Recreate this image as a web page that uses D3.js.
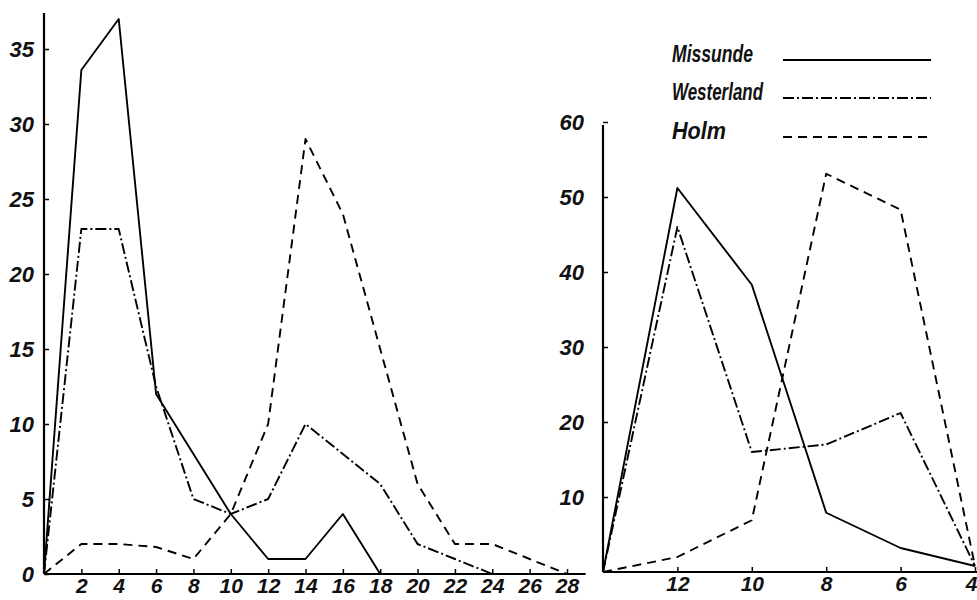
<!DOCTYPE html>
<html>
<head>
<meta charset="utf-8">
<script src="https://cdn.jsdelivr.net/npm/d3@7"></script>
<style>
  body { margin: 0; background: #fff; }
  svg { display: block; }
  .tick text { font-family: "Liberation Sans", Arial, sans-serif; font-style: italic; font-weight: bold; fill: #111; }
  .legend text { font-family: "Liberation Sans", Arial, sans-serif; font-style: italic; font-weight: bold; fill: #111; }
</style>
</head>
<body>
<div id="chart"></div>
<script>
// left panel: x = 0..28
const leftX = [0, 2, 4, 6, 8, 10, 12, 14, 16, 18, 20, 22, 24, 26, 28];
const leftMissunde = [0, 33.6, 37, 12, 8, 4, 1, 1, 4, 0, null, null, null, null, null];
const leftWesterland = [0, 23, 23, 12.5, 5, 4, 5, 10, 8, 6, 2, 1, 0, null, null];
const leftHolm = [0, 2, 2, 1.8, 1, 4, 10, 29, 24, 15, 6, 2, 2, 1, 0];
const leftYTicks = [0, 5, 10, 15, 20, 25, 30, 35];
const leftXTicks = [2, 4, 6, 8, 10, 12, 14, 16, 18, 20, 22, 24, 26, 28];

// right panel: x = 14..4 (reversed)
const rightX = [14, 12, 10, 8, 6, 4];
const rightMissunde = [0, 51.2, 38.3, 7.9, 3.2, 0.8];
const rightWesterland = [0, 46, 16, 17, 21.2, 0.8];
const rightHolm = [0, 2, 6.9, 53.1, 48.3, 0.8];
const rightYTicks = [10, 20, 30, 40, 50, 60];
const rightXTicks = [12, 10, 8, 6, 4];

const seriesNames = ["Missunde", "Westerland", "Holm"];
const dashes = { Missunde: null, Westerland: "11,3,2,3", Holm: "9,6" };

const width = 977;
const height = 600;

const svg = d3
  .select("#chart")
  .append("svg")
  .attr("width", width)
  .attr("height", height);

function drawPanel(opts) {
  const { xs, series, x, y, xTicks, yTicks, xEnd, yEnd, yPad } = opts;
  const g = svg.append("g");
  const x0 = x(x.domain()[0]);

  // axis lines, drawn a bit past the last tick like the original
  g.append("line")
    .attr("x1", x0).attr("x2", x0)
    .attr("y1", y(0)).attr("y2", y(yEnd))
    .attr("stroke", "#000").attr("stroke-width", 2.2);
  g.append("line")
    .attr("x1", x0).attr("x2", x(xEnd))
    .attr("y1", y(0)).attr("y2", y(0))
    .attr("stroke", "#000").attr("stroke-width", 2.2);

  const yAxis = g.append("g")
    .attr("transform", `translate(${x0},0)`)
    .call(d3.axisLeft(y).tickValues(yTicks).tickSize(-5).tickSizeOuter(0).tickPadding(yPad));
  yAxis.select(".domain").remove();
  yAxis.selectAll("line").attr("stroke", "#000").attr("stroke-width", 1.5);
  yAxis.selectAll("text").style("font-size", "22px");

  const xAxis = g.append("g")
    .attr("transform", `translate(0,${y(0)})`)
    .call(d3.axisBottom(x).tickValues(xTicks).tickSize(-5).tickSizeOuter(0).tickPadding(4));
  xAxis.select(".domain").remove();
  xAxis.selectAll("line").attr("stroke", "#000").attr("stroke-width", 1.5);
  xAxis.selectAll("text").style("font-size", "21px");

  seriesNames.forEach((name) => {
    const vals = series[name];
    const line = d3.line()
      .defined((d, i) => vals[i] != null)
      .x((d, i) => x(xs[i]))
      .y((d, i) => y(vals[i]));
    g.append("path")
      .datum(vals)
      .attr("d", line)
      .attr("fill", "none")
      .attr("stroke", "#000")
      .attr("stroke-width", 1.9)
      .attr("stroke-linejoin", "round")
      .attr("stroke-dasharray", dashes[name]);
  });

  return xAxis;
}

drawPanel({
  xs: leftX,
  series: { Missunde: leftMissunde, Westerland: leftWesterland, Holm: leftHolm },
  x: d3.scaleLinear().domain([0, 28]).range([44, 567]),
  y: d3.scaleLinear().domain([0, 35]).range([574, 49]),
  xTicks: leftXTicks,
  yTicks: leftYTicks,
  xEnd: 29,
  yEnd: 37.4,
  yPad: 10
});

const rightAxis = drawPanel({
  xs: rightX,
  series: { Missunde: rightMissunde, Westerland: rightWesterland, Holm: rightHolm },
  x: d3.scaleLinear().domain([14, 4]).range([603, 975]),
  y: d3.scaleLinear().domain([0, 60]).range([572, 122]),
  xTicks: rightXTicks,
  yTicks: rightYTicks,
  xEnd: 3.9,
  yEnd: 59.6,
  yPad: 19
});
// the last label sits on the page edge; keep it inside
rightAxis.selectAll("text").filter((d) => d === 4).attr("text-anchor", "end").attr("dx", 2);

// legend
const legendWidths = { Missunde: 81, Westerland: 91, Holm: 54 };
const legend = svg.append("g").attr("class", "legend");
const legendItems = legend
  .selectAll("g")
  .data(seriesNames)
  .enter()
  .append("g")
  .attr("transform", (d, i) => `translate(0,${[60, 98, 137][i]})`);

legendItems
  .append("text")
  .attr("x", 672)
  .attr("y", 2)
  .style("font-size", "23px")
  .attr("textLength", (d) => legendWidths[d])
  .attr("lengthAdjust", "spacingAndGlyphs")
  .text((d) => d);

legendItems
  .append("line")
  .attr("x1", 783)
  .attr("x2", 931)
  .attr("stroke", "#000")
  .attr("stroke-width", 1.9)
  .attr("stroke-dasharray", (d) => dashes[d]);
</script>
</body>
</html>
